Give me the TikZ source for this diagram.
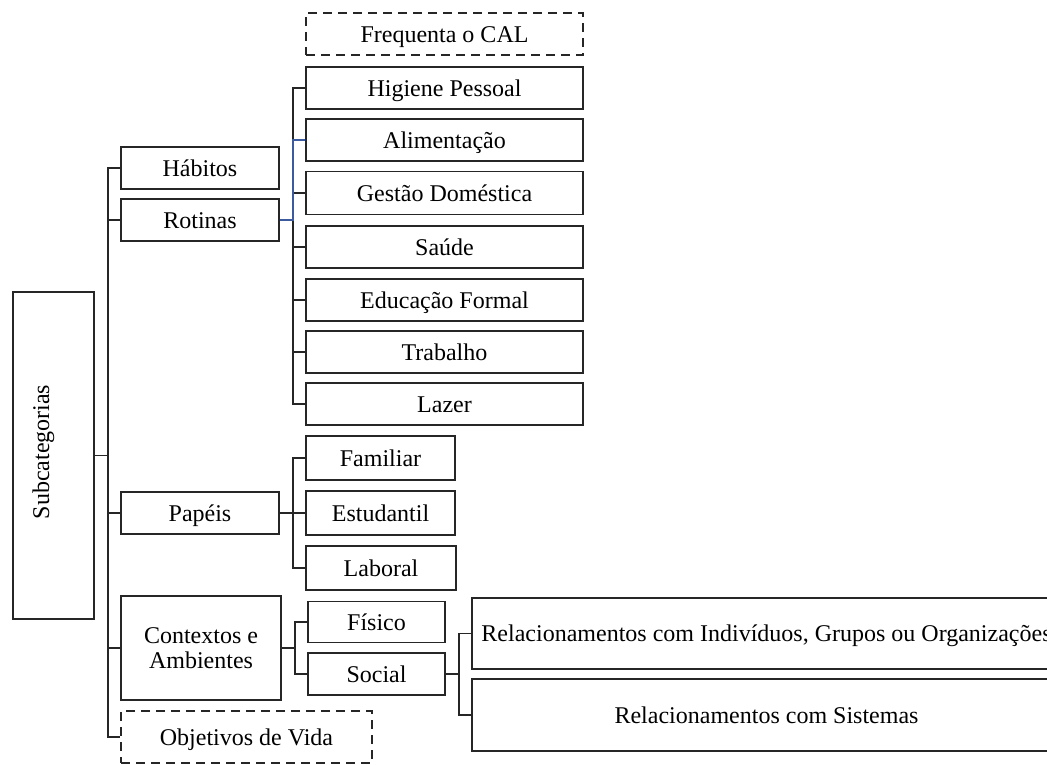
\documentclass[tikz,border=0pt]{standalone}
\usepackage{fontspec}
\setmainfont{Liberation Serif}
\definecolor{linec}{HTML}{262626}
\definecolor{bluec}{HTML}{3B5B9E}
\begin{document}
\begin{tikzpicture}[x=1pt,y=-1pt,
  basebox/.style={draw=linec, line width=1.2pt, rectangle, inner sep=0pt,
    font=\fontsize{24}{25}\selectfont},
  box/.style={basebox, text height=16pt, text depth=0pt},
  dbox/.style={box, dash pattern=on 9pt off 6pt},
  conn/.style={draw=linec, line width=1.2pt},
  blueconn/.style={draw=bluec, line width=1.2pt}]
\useasboundingbox (0,0) rectangle (1047,764);
\clip (0,0) rectangle (1047,764);

% root
\node[basebox, minimum width=81pt, minimum height=327pt] (sub) at (53.5,455.5) {};
\node[rotate=90, anchor=base, font=\fontsize{24}{25}\selectfont] (subtxt) at (49,452) {Subcategorias};

% level 1
\node[box, minimum width=158pt, minimum height=42pt] (habitos) at (200,168) {Hábitos};
\node[box, minimum width=158pt, minimum height=42pt] (rotinas) at (200,220) {Rotinas};
\node[box, minimum width=158pt, minimum height=42pt] (papeis) at (200,513) {Papéis};
\node[basebox, align=center, minimum width=160pt, minimum height=104pt] (contextos) at (201,648) {Contextos e\\Ambientes};
\node[dbox, minimum width=251pt, minimum height=52pt] (objetivos) at (246.5,737) {Objetivos de Vida};

% rotinas children
\node[dbox, minimum width=277pt, minimum height=42pt] (cal) at (444.5,34) {Frequenta o CAL};
\node[box, minimum width=277pt, minimum height=42pt] (higiene) at (444.5,88) {Higiene Pessoal};
\node[box, minimum width=277pt, minimum height=42pt] (alim) at (444.5,140) {Alimentação};
\node[box, minimum width=277pt, minimum height=43pt] (gestao) at (444.5,193) {Gestão Doméstica};
\node[box, minimum width=277pt, minimum height=42pt] (saude) at (444.5,247) {Saúde};
\node[box, minimum width=277pt, minimum height=42pt] (educ) at (444.5,300) {Educação Formal};
\node[box, minimum width=277pt, minimum height=42pt] (trab) at (444.5,352) {Trabalho};
\node[box, minimum width=277pt, minimum height=42pt] (lazer) at (444.5,404) {Lazer};

% papeis children
\node[box, minimum width=149pt, minimum height=44pt] (familiar) at (380.5,458) {Familiar};
\node[box, minimum width=149pt, minimum height=44pt] (estud) at (380.5,513) {Estudantil};
\node[box, minimum width=150pt, minimum height=44pt] (laboral) at (381,568) {Laboral};

% contextos children
\node[box, minimum width=137pt, minimum height=41pt] (fisico) at (376.5,622) {Físico};
\node[box, minimum width=137pt, minimum height=42pt] (social) at (376.5,674) {Social};

% social children
\node[box, minimum width=589pt, minimum height=71pt] (rel1) at (766.5,633.5) {Relacionamentos com Indivíduos, Grupos ou Organizações};
\node[box, minimum width=589pt, minimum height=72pt] (rel2) at (766.5,715) {Relacionamentos com Sistemas};

% trunk
\coordinate (trunk) at (108,0);
\draw[conn] (sub.east) -- (sub.east -| trunk);
\draw[conn] (habitos.west) -- (habitos.west -| trunk) -- (objetivos.west -| trunk) -- (objetivos.west);
\foreach \n in {rotinas,papeis,contextos}{
  \draw[conn] (\n.west) -- (\n.west -| trunk);
}

% rotinas branch
\coordinate (rb) at (293,0);
\draw[conn] (higiene.west) -- (higiene.west -| rb) -- (lazer.west -| rb) -- (lazer.west);
\foreach \n in {gestao,saude,educ,trab}{
  \draw[conn] (\n.west) -- (\n.west -| rb);
}
\draw[blueconn] (rotinas.east) -- (rotinas.east -| rb) -- (alim.west -| rb) -- (alim.west);

% papeis branch
\coordinate (pb) at (293,0);
\draw[conn] (papeis.east) -- (papeis.east -| pb);
\draw[conn] (familiar.west) -- (familiar.west -| pb) -- (laboral.west -| pb) -- (laboral.west);
\draw[conn] (estud.west) -- (estud.west -| pb);

% contextos branch
\coordinate (cb) at (295,0);
\draw[conn] (contextos.east) -- (contextos.east -| cb);
\draw[conn] (fisico.west) -- (fisico.west -| cb) -- (social.west -| cb) -- (social.west);

% social branch
\coordinate (sb) at (459,0);
\draw[conn] (social.east) -- (social.east -| sb);
\draw[conn] (rel1.west) -- (rel1.west -| sb) -- (rel2.west -| sb) -- (rel2.west);
\end{tikzpicture}
\end{document}
